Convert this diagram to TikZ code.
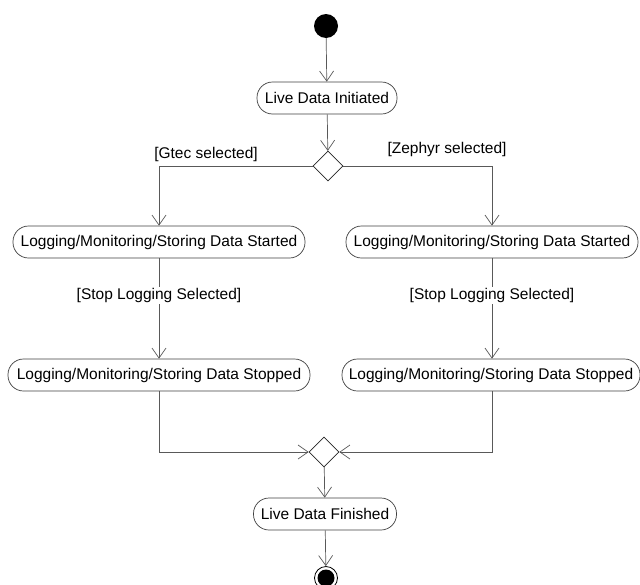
\documentclass[tikz,border=0pt]{standalone}
\usepackage{fontspec}
\setmainfont{Liberation Sans}
\usetikzlibrary{arrows.meta,shapes.geometric}
\begin{document}
\begin{tikzpicture}[x=1pt,y=-1pt,
  act/.style={draw=black!75,fill=white,rounded corners=15.5pt,minimum height=32pt,inner xsep=0pt,font=\fontsize{15.5}{18}\selectfont,line width=0.7pt},
  dec/.style={draw=black!85,fill=white,diamond,minimum width=30pt,minimum height=30pt,inner sep=0pt,line width=0.7pt},
  flow/.style={draw=black!65,line width=0.7pt,-{Straight Barb[length=10pt,width=14pt,line width=0.7pt]}},
  guard/.style={font=\fontsize{15.5}{18}\selectfont,inner sep=1pt},
]
\useasboundingbox (0,0) rectangle (640,584);
\node[circle,fill=black,minimum size=24pt,inner sep=0pt] (start) at (326,26) {};
\node[act,minimum width=140pt] (ldi) at (327,98) {Live Data Initiated};
\node[dec] (d1) at (328,166) {};
\node[act,minimum width=292pt] (ls) at (159,242) {Logging/Monitoring/Storing Data Started};
\node[act,minimum width=292pt] (rs) at (492,242) {Logging/Monitoring/Storing Data Started};
\node[act,minimum width=302pt] (lp) at (159,375) {Logging/Monitoring/Storing Data Stopped};
\node[act,minimum width=298pt] (rp) at (491,375) {Logging/Monitoring/Storing Data Stopped};
\node[dec] (d2) at (324,452) {};
\node[act,minimum width=143pt] (ldf) at (325,514) {Live Data Finished};
\node[circle,draw=black,line width=0.8pt,fill=white,minimum size=23pt,inner sep=0pt] (end) at (326,578) {};
\node[circle,fill=black,minimum size=17pt,inner sep=0pt] (endin) at (end.center) {};

\draw[flow] (start) -- (ldi);
\draw[flow] (ldi) -- (d1);
\draw[flow] (d1.west) -| (ls.north);
\draw[flow] (d1.east) -| (rs.north);
\node[guard] (g1) at (206,154) {[Gtec selected]};
\node[guard] (g2) at (447,149) {[Zephyr selected]};
\draw[flow] (ls) -- (lp) node[guard,fill=white,pos=0.37] (g3) {[Stop Logging Selected]};
\draw[flow] (rs) -- (rp.north -| rs.south) node[guard,fill=white,pos=0.37] (g4) {[Stop Logging Selected]};
\draw[flow] (lp.south) |- (d2.west);
\draw[flow] (rp.south -| rs.south) |- (d2.east);
\draw[flow] (d2) -- (ldf);
\draw[flow] (ldf) -- (end);
\end{tikzpicture}
\end{document}
